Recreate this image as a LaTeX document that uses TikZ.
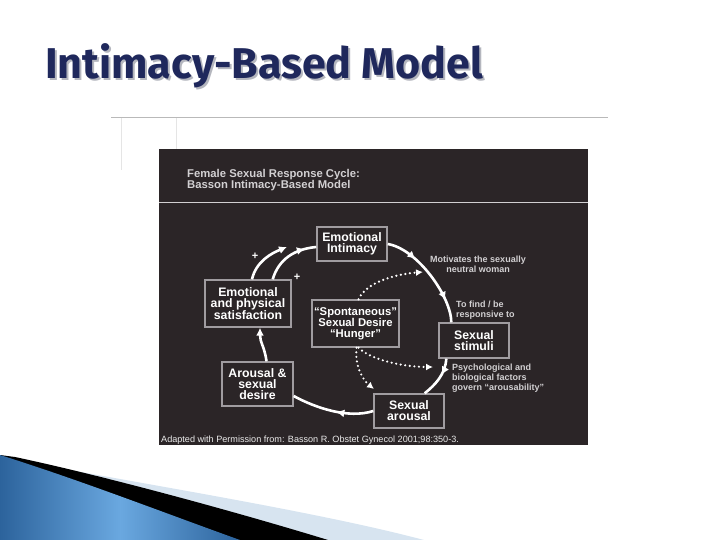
\documentclass[tikz,border=0pt]{standalone}
\usepackage{fontspec}
\setmainfont{Liberation Sans}
\newfontfamily\headfont{Fira Sans}
\usetikzlibrary{arrows.meta,calc,decorations.markings}
\definecolor{SlideNavy}{HTML}{1F285C}
\definecolor{SlideShade}{HTML}{B4B6BE}
\definecolor{ScanBack}{HTML}{2B2527}
\definecolor{ScanBorder}{HTML}{A09CA0}
\definecolor{ScanText}{HTML}{D2D0D2}
\definecolor{SwooshDark}{HTML}{2C639C}
\definecolor{SwooshBlue}{HTML}{3E7DBC}
\definecolor{SwooshLight}{HTML}{6AA8E0}
\definecolor{SwooshPale}{HTML}{D7E4F0}
\tikzset{>={Latex[length=8pt,width=8pt]},
 box/.style={draw=ScanBorder,line width=1.4pt,fill=ScanBack,text=white,align=center,
  inner sep=0pt,font=\bfseries\fontsize{12.3}{11.2}\selectfont},
 cyc/.style={draw=white,line width=2.6pt},
 midarr/.style={postaction={decorate,decoration={markings,
  mark=at position #1 with {\arrow{Latex[length=8pt,width=8pt]}}}}},
 spont/.style={draw=white,line width=2.4pt,dash pattern=on 0pt off 4.6pt,line cap=round,
  -{Latex[length=7pt,width=7pt]}},
 note/.style={text=ScanText,font=\bfseries\fontsize{9}{10}\selectfont,inner sep=0pt}}
\begin{document}
\begin{tikzpicture}[x=1pt,y=-1pt]
\useasboundingbox (0,0) rectangle (720,540);
% slide title
\node[anchor=base west,inner sep=0pt,text=SlideShade] (titleshade) at (47,81)
 {\resizebox{438pt}{!}{\headfont\bfseries Intimacy-Based Model}};
\node[anchor=base west,inner sep=0pt,text=SlideNavy] (title) at (45,79)
 {\resizebox{438pt}{!}{\headfont\bfseries Intimacy-Based Model}};
% scanned page
\draw[gray!55,line width=0.8pt] (111,117)--(608,117);
\draw[gray!20] (121,118)--(121,170) (176,118)--(176,149);
\fill[ScanBack] (159,149) rectangle (588,445);
\draw[ScanText,line width=1pt] (159,203)--(588,203);
\node[anchor=west,text=ScanText,align=left,inner sep=0pt,font=\bfseries\fontsize{11.3}{11.5}\selectfont]
 (head) at (187,180) {Female Sexual Response Cycle:\\Basson Intimacy-Based Model};
% boxes
\node[box,minimum width=70pt,minimum height=34pt] (ei) at (352,244) {Emotional\\Intimacy};
\node[box,minimum width=86pt,minimum height=47pt] (sat) at (248,303.5) {Emotional\\and physical\\satisfaction};
\node[box,minimum width=87pt,minimum height=47pt,font=\bfseries\fontsize{11.3}{11.2}\selectfont] (sp) at (355.5,323.5)
 {``Spontaneous''\\Sexual Desire\\``Hunger''};
\node[box,minimum width=70pt,minimum height=35pt] (stim) at (474,340.5) {Sexual\\stimuli};
\node[box,minimum width=71pt,minimum height=44pt] (ad) at (257.5,384) {Arousal \&\\sexual\\desire};
\node[box,minimum width=70pt,minimum height=34pt] (sa) at (409,411) {Sexual\\arousal};
% labels
\node[note,align=center] (motiv) at (478,264.5) {Motivates the sexually\\neutral woman};
\node[note,align=left,anchor=west] (tofind) at (456,310) {To find / be\\responsive to};
\node[note,align=left,anchor=west] (psych) at (452,378) {Psychological and\\biological factors\\govern ``arousability''};
\node[text=white,font=\bfseries\fontsize{11}{11}\selectfont,inner sep=0pt] (plusA) at (255,256) {+};
\node[text=white,font=\bfseries\fontsize{11}{11}\selectfont,inner sep=0pt] (plusB) at (297,277) {+};
\node[anchor=west,text=white!92!black,inner sep=0pt,font=\fontsize{9.1}{10}\selectfont] (credit) at (161,440)
 {Adapted with Permission from: Basson R. Obstet Gynecol 2001;98:350-3.};
% cycle
\coordinate (topA) at (287,247);
\draw[cyc,midarr=0.3,midarr=0.78] (ei.east) .. controls +(30,5) and +(0,-25) .. ($(stim.north west)+(13,0)$);
\draw[cyc,midarr=0.4] ($(stim.south west)+(8,0)$) .. controls +(-1,16) and +(10,-8) .. ($(sa.north east)+(-20,0)$);
\draw[cyc,midarr=0.45] (sa.west) .. controls +(-25,8) and +(22,12) .. ($(ad.east)+(0,12)$);
\draw[cyc,->] ($(ad.north)+(9,0)$) .. controls +(-2,-15) and +(0,15) .. ($(sat.south)+(12,0)$);
\draw[cyc,->] ($(sat.north)+(4,0)$) .. controls +(4,-18) and +(-15,6) .. (topA);
\draw[cyc,midarr=0.8] ($(sat.north east)+(-19,0)$) .. controls +(6,-20) and +(-22,2) .. ($(ei.west)+(0,3)$);
% spontaneous desire
\coordinate (dotA) at (423,272);
\coordinate (dotB) at (433,367);
\coordinate (dotC) at (374,389);
\draw[spont] ($(sp.north)+(3,0)$) .. controls +(8,-18) and +(-25,2) .. (dotA);
\draw[spont] ($(sp.south)+(3,0)$) .. controls +(12,12) and +(-30,0) .. (dotB);
\draw[spont] ($(sp.south)+(1,0)$) .. controls +(-2,20) and +(-10,-8) .. (dotC);
% swoosh
\fill[SwooshPale] (70,470) .. controls (180,490) and (330,515) .. (424,540) -- (0,540) -- (0,460) -- cycle;
\fill[black] (15,457) .. controls (100,475) and (230,510) .. (328,540) -- (0,540) -- (0,455) -- cycle;
\fill[left color=SwooshDark,right color=SwooshDark,middle color=SwooshLight]
 (0,455) .. controls (80,480) and (170,515) .. (240,540) -- (0,540) -- cycle;
\end{tikzpicture}
\end{document}
